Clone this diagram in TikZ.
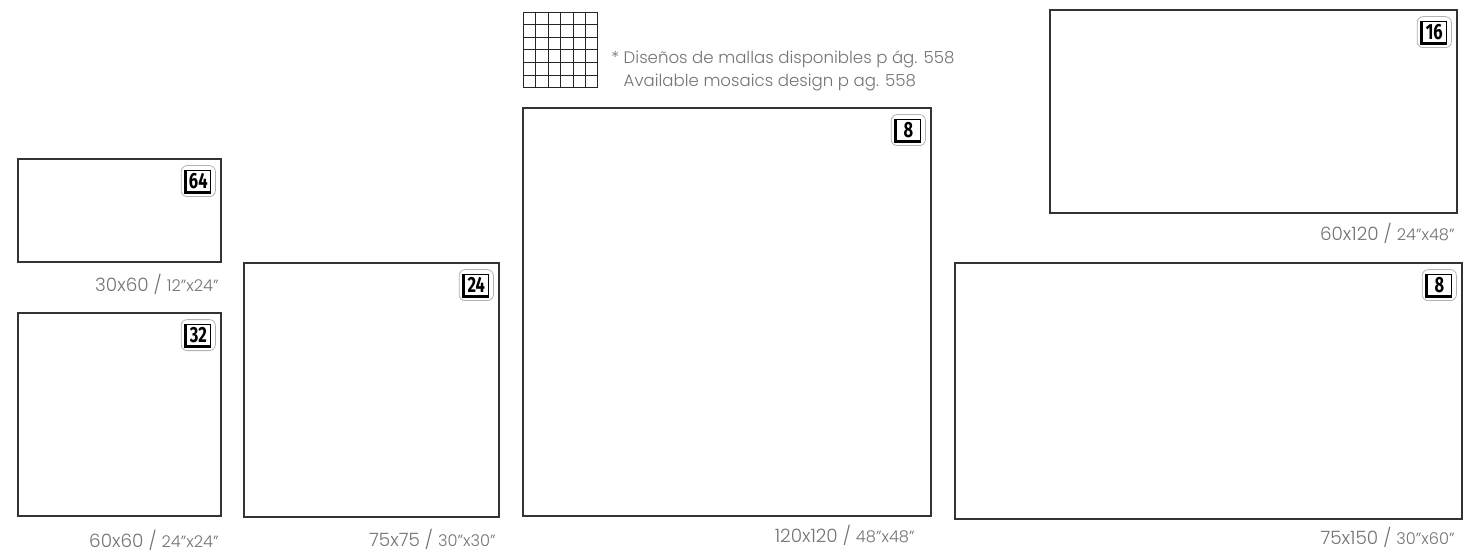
\documentclass[tikz,border=0pt]{standalone}
\usepackage{fontspec}
\IfFontExistsTF{Poppins Light}{\setmainfont{Poppins Light}}{\setmainfont{Poppins}}
\newfontfamily\keyfont[FakeStretch=0.75]{Fira Sans}
\usetikzlibrary{positioning,fit,calc}

\newcommand{\inch}[1]{{\fontsize{8.1}{8}\selectfont #1}}

\begin{document}
\begin{tikzpicture}[
  x=0.5pt,
  y=-0.5pt,
  tile/.style={
    draw=black!80,
    line width=0.55pt,
    inner sep=0pt,
    outer sep=0pt,
    anchor=north west
  },
  keycap/.style={
    draw=black,
    line width=0.7pt,
    inner sep=0.9pt,
    minimum width=12pt,
    text height=8pt,
    text depth=0.6pt,
    font=\keyfont\bfseries\fontsize{11}{11}\selectfont
  },
  keyshade/.style={
    line width=1.4pt,
    draw=black
  },
  frame/.style={
    draw=black!30,
    line width=0.4pt,
    rounded corners=3pt,
    inner sep=2.2pt
  },
  sizelabel/.style={
    text=black!55,
    inner sep=0pt,
    text height=6.8pt,
    text depth=0pt,
    font=\fontsize{9.2}{10}\selectfont
  },
  note/.style={
    text=black!55,
    inner sep=0pt,
    align=left,
    anchor=west,
    font=\fontsize{8.3}{11.5}\selectfont
  },
  meshline/.style={
    draw=black!85,
    line width=0.5pt
  }
]
\useasboundingbox (0,0) rectangle (1464,556);

% Tiles
\node[tile,minimum width=101.5pt,minimum height=51.5pt] (t3060) at (18,159) {};
\node[tile,minimum width=101.5pt,minimum height=101.5pt] (t6060) at (18,313) {};
\node[tile,minimum width=127.5pt,minimum height=127pt] (t7575) at (244,263) {};
\node[tile,minimum width=204pt,minimum height=204pt] (t120120) at (523,108) {};
\node[tile,minimum width=203.5pt,minimum height=101.5pt] (t60120) at (1050,10) {};
\node[tile,minimum width=253.5pt,minimum height=128pt] (t75150) at (955,263) {};

% Piece counts
\node[keycap,below left=5.5pt and 5pt of t3060.north east] (k64) {64};
\node[keycap,below left=5.5pt and 5pt of t6060.north east] (k32) {32};
\node[keycap,below left=5.5pt and 5pt of t7575.north east] (k24) {24};
\node[keycap,below left=5.5pt and 5pt of t120120.north east] (k8a) {8};
\node[keycap,below left=5.5pt and 5pt of t60120.north east] (k16) {16};
\node[keycap,below left=5.5pt and 5pt of t75150.north east] (k8b) {8};

\foreach \k in {k64,k32,k24,k8a,k16,k8b} {
  \draw[keyshade] ([xshift=-0.3pt]\k.north west) |- ([yshift=-0.3pt]\k.south east);
  \node[frame,fit=(\k)] {};
}

% Sizes
\node[sizelabel,below left=7.8pt and 1pt of t3060.south east] (l3060) {30x60 / \inch{12”x24”}};
\node[sizelabel,below left=8.5pt and 1pt of t6060.south east] (l6060) {60x60 / \inch{24”x24”}};
\node[sizelabel,below left=7.8pt and 1.5pt of t7575.south east] (l7575) {75x75 / \inch{30”x30”}};
\node[sizelabel,below left=6pt and 8pt of t120120.south east] (l120120) {120x120 / \inch{48”x48”}};
\node[sizelabel,below left=7pt and 1pt of t60120.south east] (l60120) {60x120 / \inch{24”x48”}};
\node[sizelabel,below left=5.5pt and 3.5pt of t75150.south east] (l75150) {75x150 / \inch{30”x60”}};

% Mosaic grid
\node[draw=black!85,line width=0.5pt,inner sep=0pt,minimum width=37pt,minimum height=37.5pt,anchor=north west] (mesh) at (523,12) {};
\foreach \i in {1,...,5} {
  \draw[meshline] ($(mesh.north west)!\i/6!(mesh.north east)$) -- ($(mesh.south west)!\i/6!(mesh.south east)$);
  \draw[meshline] ($(mesh.north west)!\i/6!(mesh.south west)$) -- ($(mesh.north east)!\i/6!(mesh.south east)$);
}

\node[note,right=6.5pt of mesh,yshift=-10.5pt] (mosaics) {* Diseños de mallas disponibles p ág. 558\\
  \phantom{*\ }Available mosaics design p ag. 558};

\end{tikzpicture}
\end{document}
